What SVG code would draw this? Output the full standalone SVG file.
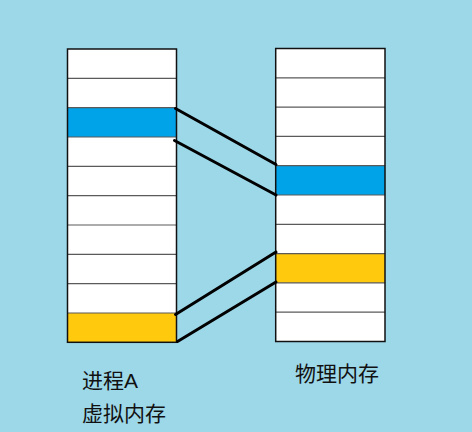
<svg xmlns="http://www.w3.org/2000/svg" width="472" height="432" viewBox="0 0 472 432">
<style>
.cell{fill:#ffffff}
.div{stroke:#5a5a5a;stroke-width:1.2}
.frame{fill:none;stroke:#111;stroke-width:1.5}
.blue{fill:#00a2e8}
.yellow{fill:#ffc90e}
.conn{stroke:#000;stroke-width:3;stroke-linecap:round}
.lbl{font-family:"Liberation Sans","Noto Sans CJK SC",sans-serif;font-size:21px;fill:#111}
</style>
<rect x="0" y="0" width="472" height="432" fill="#9dd8e9"/>
<g id="virtual-memory">
<rect class="cell" x="67.5" y="49" width="109" height="293.3"/>
<rect class="blue" x="67.5" y="107.7" width="109" height="29.3"/>
<rect class="yellow" x="67.5" y="313" width="109" height="29.3"/>
<line class="div" x1="67.5" y1="78.3" x2="176.5" y2="78.3"/>
<line class="div" x1="67.5" y1="107.7" x2="176.5" y2="107.7"/>
<line class="div" x1="67.5" y1="137" x2="176.5" y2="137"/>
<line class="div" x1="67.5" y1="166.3" x2="176.5" y2="166.3"/>
<line class="div" x1="67.5" y1="195.6" x2="176.5" y2="195.6"/>
<line class="div" x1="67.5" y1="225" x2="176.5" y2="225"/>
<line class="div" x1="67.5" y1="254.3" x2="176.5" y2="254.3"/>
<line class="div" x1="67.5" y1="283.6" x2="176.5" y2="283.6"/>
<line class="div" x1="67.5" y1="313" x2="176.5" y2="313"/>
<rect class="frame" x="67.5" y="49" width="109" height="293.3"/>
</g>
<g id="physical-memory">
<rect class="cell" x="275.7" y="48.5" width="109.3" height="293"/>
<rect class="blue" x="275.7" y="165.7" width="109.3" height="29.3"/>
<rect class="yellow" x="275.7" y="253.6" width="109.3" height="29.3"/>
<line class="div" x1="275.7" y1="77.8" x2="385" y2="77.8"/>
<line class="div" x1="275.7" y1="107.1" x2="385" y2="107.1"/>
<line class="div" x1="275.7" y1="136.4" x2="385" y2="136.4"/>
<line class="div" x1="275.7" y1="165.7" x2="385" y2="165.7"/>
<line class="div" x1="275.7" y1="195" x2="385" y2="195"/>
<line class="div" x1="275.7" y1="224.3" x2="385" y2="224.3"/>
<line class="div" x1="275.7" y1="253.6" x2="385" y2="253.6"/>
<line class="div" x1="275.7" y1="282.9" x2="385" y2="282.9"/>
<line class="div" x1="275.7" y1="312.2" x2="385" y2="312.2"/>
<rect class="frame" x="275.7" y="48.5" width="109.3" height="293"/>
</g>
<g id="connectors">
<line class="conn" x1="175.5" y1="108.5" x2="276" y2="164.5"/>
<line class="conn" x1="174.5" y1="140.5" x2="276" y2="195"/>
<line class="conn" x1="175.5" y1="314.5" x2="276" y2="252"/>
<line class="conn" x1="177.5" y1="341.5" x2="276" y2="282"/>
</g>
<g id="labels">
<text class="lbl" x="82" y="388">进程A</text>
<text class="lbl" x="82" y="421">虚拟内存</text>
<text class="lbl" x="295" y="381">物理内存</text>
</g>
</svg>
